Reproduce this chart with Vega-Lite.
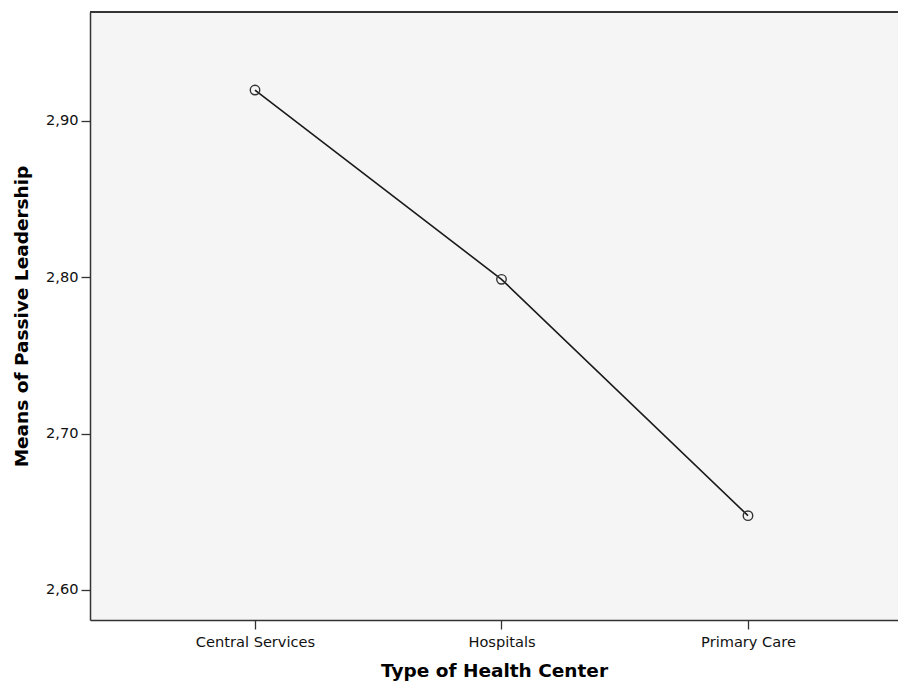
{
  "$schema": "https://vega.github.io/schema/vega-lite/v6.json",
  "width": 808,
  "height": 608,
  "autosize": {"type": "none"},
  "padding": {"left": 90, "top": 12, "right": 0, "bottom": 64},
  "background": "white",
  "config": {
    "view": {"fill": "#f5f5f5", "stroke": null},
    "font": "DejaVu Sans",
    "axis": {
      "grid": false,
      "domainColor": "#333333",
      "domainWidth": 1.5,
      "tickColor": "#333333",
      "tickWidth": 1.3,
      "tickSize": 9,
      "labelFont": "DejaVu Sans",
      "labelFontSize": 14.6,
      "labelColor": "#111111",
      "titleFont": "DejaVu Sans",
      "titleFontSize": 18.5,
      "titleFontWeight": "bold",
      "titleColor": "#000000"
    }
  },
  "data": {
    "values": [
      {"type": "Central Services", "mean": 2.9196},
      {"type": "Hospitals", "mean": 2.7986},
      {"type": "Primary Care", "mean": 2.6475}
    ]
  },
  "layer": [
    {
      "mark": {"type": "line", "color": "#1a1a1a", "strokeWidth": 1.6},
      "encoding": {
        "x": {"field": "type", "type": "nominal", "sort": null,
              "scale": {"type": "point", "padding": 0.639, "align": 0.5238},
              "axis": {"title": "Type of Health Center", "labelAngle": 0, "labelPadding": 5, "titlePadding": 13}},
        "y": {"field": "mean", "type": "quantitative",
              "scale": {"domain": [2.5808, 2.9695], "nice": false, "zero": false},
              "axis": {"title": "Means of Passive Leadership", "values": [2.6, 2.7, 2.8, 2.9],
                       "labelExpr": "replace(format(datum.value, '.2f'), '.', ',')",
                       "labelPadding": 3, "titlePadding": 14}}
      }
    },
    {
      "mark": {"type": "point", "shape": "circle", "filled": false, "size": 90, "color": "#333333", "strokeWidth": 1.4, "opacity": 1},
      "encoding": {
        "x": {"field": "type", "type": "nominal", "sort": null},
        "y": {"field": "mean", "type": "quantitative"}
      }
    },
    {
      "mark": {"type": "rule", "color": "#333333", "strokeWidth": 1.5},
      "encoding": {
        "y": {"datum": 2.9695, "type": "quantitative"}
      }
    }
  ]
}
